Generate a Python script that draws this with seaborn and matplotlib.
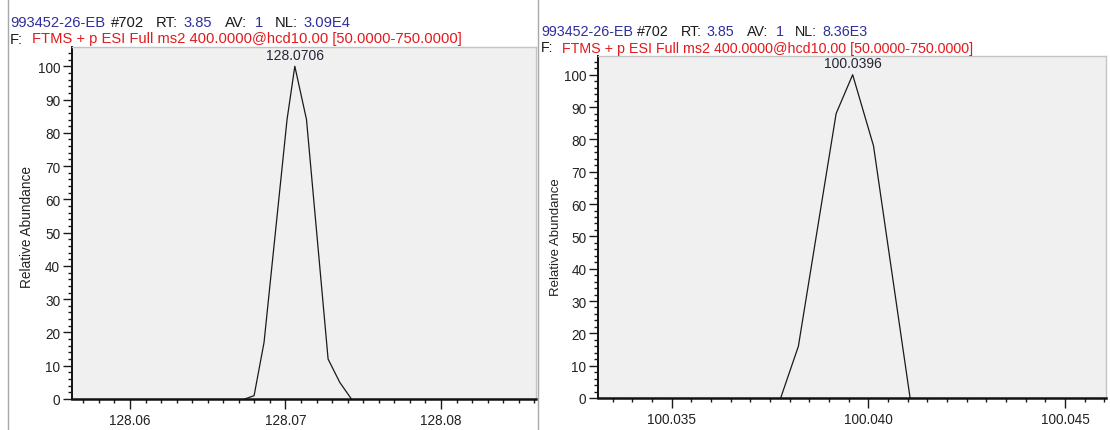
import matplotlib
matplotlib.use("Agg")
import matplotlib.pyplot as plt
from matplotlib.lines import Line2D
from matplotlib.ticker import MultipleLocator
import seaborn as sns
import pandas as pd

# ---------------- data ----------------
left_mz = [128.06738, 128.06798, 128.06862, 128.07010, 128.0706, 128.07135, 128.07274, 128.07349, 128.07424]
left_ab = [0, 1, 17, 84, 100, 84, 12, 5, 0]
left_peak_mz = 128.0706
left_xticks = [128.06, 128.07, 128.08]
left_xticklabels = ["128.06", "128.07", "128.08"]
left_xlim = (128.05627, 128.08611)

right_mz = [100.03777, 100.03822, 100.03918, 100.0396, 100.04013, 100.04106]
right_ab = [0, 16, 88, 100, 78, 0]
right_peak_mz = 100.0396
right_xticks = [100.035, 100.040, 100.045]
right_xticklabels = ["100.035", "100.040", "100.045"]
right_xlim = (100.033134, 100.04604)

y_ticks = [0, 10, 20, 30, 40, 50, 60, 70, 80, 90, 100]
y_ticklabels = [str(v) for v in y_ticks]
y_lim = (0, 105.7)
y_label = "Relative Abundance"

left_header1 = [("993452-26-EB", "b"), ("#702", "k"), ("RT:", "k"), ("3.85", "b"),
                ("AV:", "k"), ("1", "b"), ("NL:", "k"), ("3.09E4", "b")]
right_header1 = [("993452-26-EB", "b"), ("#702", "k"), ("RT:", "k"), ("3.85", "b"),
                 ("AV:", "k"), ("1", "b"), ("NL:", "k"), ("8.36E3", "b")]
header2 = [("F:", "k"), ("FTMS + p ESI Full ms2 400.0000@hcd10.00 [50.0000-750.0000]", "r")]

# ---------------- style ----------------
sns.set_theme(style="white")
plt.rcParams["font.family"] = ["Liberation Sans", "DejaVu Sans"]

W, H = 1110, 431
fig = plt.figure(figsize=(W / 100, H / 100), dpi=100)
fig.patch.set_facecolor("white")

COL = {"b": "#2e2e9e", "k": "#1a1a1a", "r": "#e3191c"}


def rect(x0, x1, ytop, ybot):
    return [x0 / W, 1 - ybot / H, (x1 - x0) / W, (ybot - ytop) / H]


def style_axes(ax, mz, ab, peak_mz, xticks, xticklabels, xlim, xminor):
    ax.set_facecolor("#f0f0f0")
    df = pd.DataFrame({"mz": mz, "ab": ab})
    sns.lineplot(data=df, x="mz", y="ab", ax=ax, color="#1a1a1a", lw=0.9,
                 estimator=None, sort=False)
    ax.set_xlim(*xlim)
    ax.set_ylim(*y_lim)
    ax.set_xticks(xticks)
    ax.set_xticklabels(xticklabels)
    ax.set_yticks(y_ticks)
    ax.set_yticklabels(y_ticklabels)
    ax.xaxis.set_minor_locator(MultipleLocator(xminor))
    ax.yaxis.set_minor_locator(MultipleLocator(2))
    ax.tick_params(which="both", bottom=True, left=True, top=False, right=False,
                   direction="out", color="#1a1a1a", width=1)
    ax.tick_params(axis="x", which="major", length=7.5, pad=2.5, labelsize=9.8, labelcolor="#222222")
    ax.tick_params(axis="x", which="minor", length=3)
    ax.tick_params(axis="y", which="major", length=6.5, pad=2, labelsize=9.8, labelcolor="#222222")
    ax.tick_params(axis="y", which="minor", length=3)
    ax.set_xlabel("")
    ax.set_ylabel("")
    ax.spines["left"].set_color("#111111")
    ax.spines["left"].set_linewidth(1.4)
    ax.spines["bottom"].set_color("#111111")
    ax.spines["bottom"].set_linewidth(1.8)
    for s in ("top", "right"):
        ax.spines[s].set_color("#c4c4c4")
        ax.spines[s].set_linewidth(1.0)
    peak_ab = ab[mz.index(peak_mz)]
    ax.annotate(f"{peak_mz:.4f}", xy=(peak_mz, peak_ab), xytext=(0, 8.4),
                textcoords="offset points", ha="center", va="center",
                fontsize=10, color="#252535")


axL = fig.add_axes(rect(72, 536, 48.3, 400))
style_axes(axL, left_mz, left_ab, left_peak_mz, left_xticks, left_xticklabels, left_xlim, 0.001)

axR = fig.add_axes(rect(598.3, 1106, 57.3, 399))
style_axes(axR, right_mz, right_ab, right_peak_mz, right_xticks, right_xticklabels, right_xlim, 0.0005)

fig.text(27.5 / W, 1 - 227 / H, y_label, rotation=90, ha="center", va="center",
         fontsize=9.8, color="#222222")
fig.text(556 / W, 1 - 237 / H, y_label, rotation=90, ha="center", va="center",
         fontsize=9.5, color="#222222")

# header texts (segment start positions in pixels, relative to line start)
seg_x = [0, 100.6, 145.5, 173, 214.6, 245, 264.7, 293.4]


def header(x0, base1, base2, segs1, scale, fs):
    for (s, c), dx in zip(segs1, seg_x):
        fig.text((x0 + dx * scale) / W, 1 - base1 / H, s, ha="left", va="baseline",
                 fontsize=fs, color=COL[c])
    fig.text(x0 / W, 1 - base2 / H, header2[0][0], ha="left", va="baseline",
             fontsize=fs, color=COL[header2[0][1]])
    fig.text((x0 + 22 * scale) / W, 1 - base2 / H, header2[1][0], ha="left", va="baseline",
             fontsize=fs, color=COL[header2[1][1]])


header(10, 27, 43.5, left_header1, 1.0, 10.6)
header(541, 36.5, 52.5, right_header1, 0.958, 10.3)

# window borders
for x in (7.5, 537.5):
    fig.add_artist(Line2D([x / W, x / W], [0, 1], transform=fig.transFigure,
                          color="#a8a8a8", lw=1))

fig.savefig("out.png", dpi=100)
